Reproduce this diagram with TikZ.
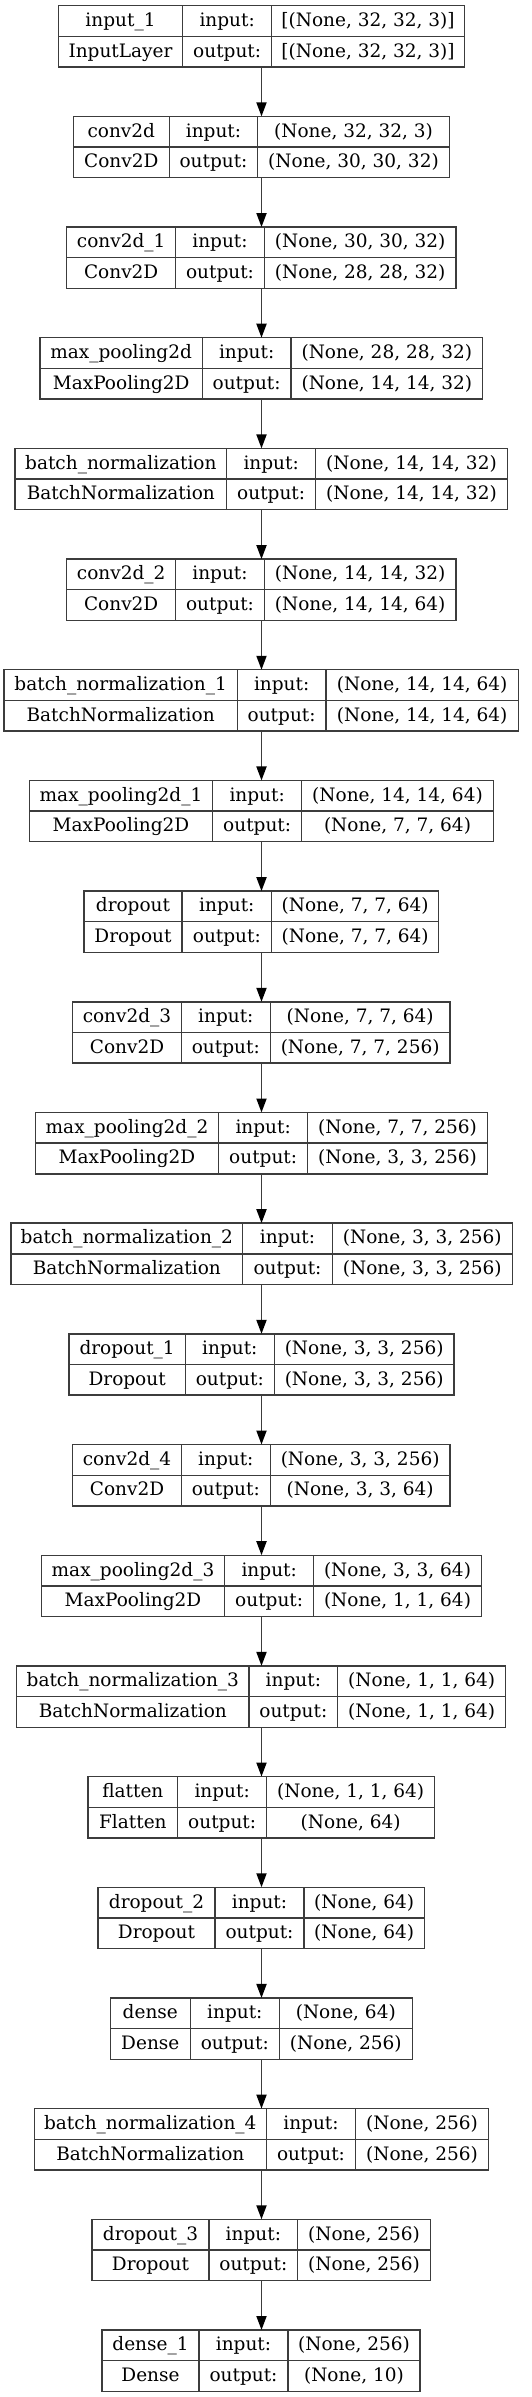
\documentclass[tikz,border=0pt]{standalone}
\usepackage{fontspec}
\setmainfont{DejaVu Serif}
\usetikzlibrary{arrows.meta,fit}
\definecolor{edgegray}{RGB}{60,60,60}
\tikzset{
  layerbox/.style={draw=edgegray, line width=1.4pt, inner sep=0pt, outer sep=0pt},
  cellline/.style={draw=edgegray, line width=1.4pt},
  celltext/.style={anchor=base, inner sep=0pt, font=\fontsize{18.5}{22}\selectfont, text=black},
  arr/.style={draw=edgegray, line width=1.8pt, -{Triangle[length=14pt,width=10pt,fill=black,color=black]}}
}
\newcommand\nnlayer[9]{%
  \pgfmathsetmacro\lyT{-(5.7+110.68*#1)}%
  \pgfmathsetmacro\lyB{\lyT-61.3}%
  \pgfmathsetmacro\lyM{\lyT-30.65}%
  \pgfmathsetmacro\lyA{\lyT-20.8}%
  \pgfmathsetmacro\lyC{\lyT-51.4}%
  \coordinate (nw#1) at (#2,\lyT);
  \coordinate (se#1) at (#5,\lyB);
  \node[layerbox, fit=(nw#1)(se#1)] (L#1) {};
  \draw[cellline] (#3,\lyT) -- (#3,\lyB) (#4,\lyT) -- (#4,\lyB) (#2,\lyM) -- (#5,\lyM);
  \node[celltext] (N#1) at ({(#2+#3)/2},\lyA) {#6};
  \node[celltext] (T#1) at ({(#2+#3)/2},\lyC) {#7};
  \node[celltext] (I#1) at ({(#3+#4)/2},\lyA) {input:};
  \node[celltext] (O#1) at ({(#3+#4)/2},\lyC) {output:};
  \node[celltext] (S#1) at ({(#4+#5)/2},\lyA) {#8};
  \node[celltext] (R#1) at ({(#4+#5)/2},\lyC) {#9};
}
\begin{document}
\begin{tikzpicture}[x=1pt,y=1pt]
\useasboundingbox[fill=white] (0,0) rectangle (532,-2397);
\nnlayer{0}{58.3}{182.7}{271.7}{464.3}{input\_1}{InputLayer}{[(None, 32, 32, 3)]}{[(None, 32, 32, 3)]}
\nnlayer{1}{73.3}{169.3}{257.7}{449.3}{conv2d}{Conv2D}{(None, 32, 32, 3)}{(None, 30, 30, 32)}
\nnlayer{2}{66.7}{175.7}{264.3}{456}{conv2d\_1}{Conv2D}{(None, 30, 30, 32)}{(None, 28, 28, 32)}
\nnlayer{3}{40}{202.3}{291}{482.7}{max\_pooling2d}{MaxPooling2D}{(None, 28, 28, 32)}{(None, 14, 14, 32)}
\nnlayer{4}{15}{226.7}{315.7}{507.3}{batch\_normalization}{BatchNormalization}{(None, 14, 14, 32)}{(None, 14, 14, 32)}
\nnlayer{5}{66.7}{175.7}{264.3}{456}{conv2d\_2}{Conv2D}{(None, 14, 14, 32)}{(None, 14, 14, 64)}
\nnlayer{6}{4}{237.3}{326}{518.3}{batch\_normalization\_1}{BatchNormalization}{(None, 14, 14, 64)}{(None, 14, 14, 64)}
\nnlayer{7}{29.3}{212.7}{301.7}{493.3}{max\_pooling2d\_1}{MaxPooling2D}{(None, 14, 14, 64)}{(None, 7, 7, 64)}
\nnlayer{8}{84}{182}{271.7}{438.7}{dropout}{Dropout}{(None, 7, 7, 64)}{(None, 7, 7, 64)}
\nnlayer{9}{72.7}{181.3}{270.3}{450}{conv2d\_3}{Conv2D}{(None, 7, 7, 64)}{(None, 7, 7, 256)}
\nnlayer{10}{35.3}{218.7}{307.7}{487.3}{max\_pooling2d\_2}{MaxPooling2D}{(None, 7, 7, 256)}{(None, 3, 3, 256)}
\nnlayer{11}{11}{242.7}{332.3}{512.3}{batch\_normalization\_2}{BatchNormalization}{(None, 3, 3, 256)}{(None, 3, 3, 256)}
\nnlayer{12}{69}{185.3}{274.3}{454}{dropout\_1}{Dropout}{(None, 3, 3, 256)}{(None, 3, 3, 256)}
\nnlayer{13}{72.7}{181.3}{270.3}{450}{conv2d\_4}{Conv2D}{(None, 3, 3, 256)}{(None, 3, 3, 64)}
\nnlayer{14}{41.3}{224.7}{313.7}{481.3}{max\_pooling2d\_3}{MaxPooling2D}{(None, 3, 3, 64)}{(None, 1, 1, 64)}
\nnlayer{15}{16.7}{249}{337.7}{505.7}{batch\_normalization\_3}{BatchNormalization}{(None, 1, 1, 64)}{(None, 1, 1, 64)}
\nnlayer{16}{88}{177.7}{266.7}{434.7}{flatten}{Flatten}{(None, 1, 1, 64)}{(None, 64)}
\nnlayer{17}{98}{215}{304}{424.3}{dropout\_2}{Dropout}{(None, 64)}{(None, 64)}
\nnlayer{18}{110.3}{190.3}{279.3}{412.3}{dense}{Dense}{(None, 64)}{(None, 256)}
\nnlayer{19}{34.3}{266.3}{355.7}{488.3}{batch\_normalization\_4}{BatchNormalization}{(None, 256)}{(None, 256)}
\nnlayer{20}{92}{209}{297.7}{430.3}{dropout\_3}{Dropout}{(None, 256)}{(None, 256)}
\nnlayer{21}{102}{199}{288}{420}{dense\_1}{Dense}{(None, 256)}{(None, 10)}
\foreach \i [evaluate=\i as \j using int(\i+1)] in {0,...,20} {
  \coordinate (src\i) at (261.5,0);
  \draw[arr] (src\i |- L\i.south) -- (src\i |- L\j.north);
}
\end{tikzpicture}
\end{document}
